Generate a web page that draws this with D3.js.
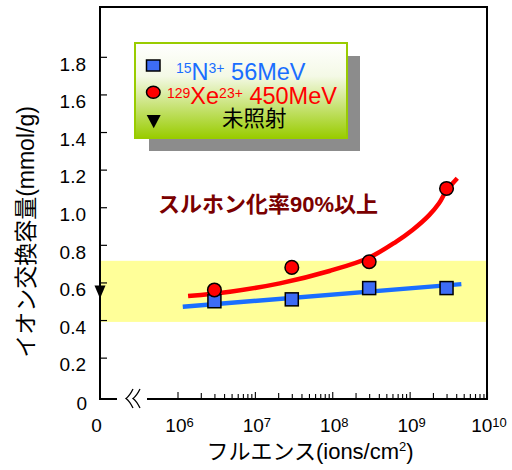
<!DOCTYPE html>
<html>
<head>
<meta charset="utf-8">
<script src="https://cdn.jsdelivr.net/npm/d3@7"></script>
<style>
  body { margin: 0; background: #fff; }
  text { font-family: "Liberation Sans", Arial, "Noto Sans CJK JP", sans-serif; }
</style>
</head>
<body>
<script>
// Irradiation fluence (ions/cm²) of the measured samples
const fluence = [3e6, 3e7, 3e8, 3e9];
// Ion exchange capacity (mmol/g)
const nCapacity = [0.50, 0.51, 0.57, 0.57];     // 15N3+ 56MeV
const xeCapacity = [0.56, 0.68, 0.71, 1.10];    // 129Xe23+ 450MeV
const unirradiatedCapacity = 0.56;              // 未照射
// Trend lines
const nFitFluence = [1.17e6, 4.66e9];
const nFitCapacity = [0.471, 0.591];
const xeFitFluence = [1.37e6, 4.77e6, 2.1e7, 9.2e7, 2.93e8, 6.66e8, 1.09e9, 1.79e9, 2.4e9, 2.93e9, 4.13e9];
const xeFitCapacity = [0.528, 0.551, 0.595, 0.661, 0.730, 0.816, 0.879, 0.958, 1.021, 1.082, 1.154];
// Highlighted capacity range
const bandRange = [0.39, 0.715];
// Axis ticks
const yTickValues = [0.2, 0.4, 0.6, 0.8, 1.0, 1.2, 1.4, 1.6, 1.8];
const xTickExponents = [6, 7, 8, 9, 10];

const W = 512, H = 470;
const plotLeft = 100, plotRight = 487, plotTop = 7, plotBottom = 399;

const svg = d3.select("body").append("svg")
  .attr("width", W).attr("height", H);

const x = d3.scaleLog().domain([1e6, 1e10]).range([177.5, plotRight]);
const y = d3.scaleLinear().domain([-0.02, 2.065]).range([plotBottom, plotTop]);

// Legend gradient
const defs = svg.append("defs");
const grad = defs.append("linearGradient").attr("id", "legendFill")
  .attr("x1", 0).attr("y1", 0).attr("x2", 0).attr("y2", 1);
grad.append("stop").attr("offset", "0%").attr("stop-color", "#ffffff");
grad.append("stop").attr("offset", "35%").attr("stop-color", "#f4f9e6");
grad.append("stop").attr("offset", "100%").attr("stop-color", "#99cc00");

// Highlight band
svg.append("rect")
  .attr("x", plotLeft).attr("width", plotRight - plotLeft)
  .attr("y", y(bandRange[1])).attr("height", y(bandRange[0]) - y(bandRange[1]))
  .attr("fill", "#ffff99");

// Frame: left axis, top and right borders
svg.append("path")
  .attr("d", `M${plotLeft},${plotBottom} V${plotTop} H${plotRight} V${plotBottom}`)
  .attr("fill", "none").attr("stroke", "#000").attr("stroke-width", 2);

// Bottom axis line with a break mark
svg.append("path")
  .attr("d", `M${plotLeft - 1},${plotBottom} H117 M147,${plotBottom} H${plotRight + 1}`)
  .attr("fill", "none").attr("stroke", "#000").attr("stroke-width", 2);
svg.append("path")
  .attr("d", "M133,389 Q129.5,396 126,398.5 Q129.5,401 133,408 " +
             "M140,389 Q136.5,396 133,398.5 Q136.5,401 140,408")
  .attr("fill", "none").attr("stroke", "#000").attr("stroke-width", 1.3);

// Y axis ticks and labels
const yAxis = d3.axisLeft(y).tickValues(yTickValues).tickSize(-7)
  .tickFormat(d3.format(".1f"));
const gy = svg.append("g").attr("transform", `translate(${plotLeft},0)`).call(yAxis);
gy.select(".domain").remove();
gy.selectAll(".tick line").attr("stroke", "#000").attr("stroke-width", 1.2);
gy.selectAll(".tick text")
  .attr("x", -14).attr("dy", "0.7em")
  .attr("fill", "#000").style("font-size", "19px")
  .style("font-family", "'Liberation Sans', Arial, sans-serif");
svg.append("text").attr("x", 87).attr("y", 410)
  .attr("text-anchor", "end").style("font-size", "19px").text("0");

// X axis: log ticks inside the frame
const xTickValues = d3.range(6, 10).flatMap(e => d3.range(1, 10).map(m => m * 10 ** e)).concat([1e10]);
const xAxis = d3.axisBottom(x).tickValues(xTickValues).tickSize(-5).tickFormat("");
const gx = svg.append("g").attr("transform", `translate(0,${plotBottom})`).call(xAxis);
gx.select(".domain").remove();
gx.selectAll(".tick line")
  .attr("stroke", "#000").attr("stroke-width", 1.1)
  .attr("y2", d => {
    const m = Math.round(d / 10 ** Math.floor(Math.log10(d) + 1e-9));
    return m === 1 ? -7 : (m === 2 ? -6 : -5);
  });

const xl = svg.append("g").selectAll("text").data(xTickExponents).join("text")
  .attr("x", d => x(10 ** d) + 2).attr("y", 432)
  .attr("text-anchor", "middle").style("font-size", "19px");
xl.append("tspan").text("10");
xl.append("tspan").attr("dy", -5).style("font-size", "13px").text(d => d);
svg.append("text").attr("x", 96.5).attr("y", 432)
  .attr("text-anchor", "middle").style("font-size", "19px").text("0");

// Axis titles
const xt = svg.append("text").attr("x", 310).attr("y", 459)
  .attr("text-anchor", "middle").style("font-size", "22px");
xt.append("tspan").text("フルエンス(ions/cm");
xt.append("tspan").attr("dy", -8).style("font-size", "13px").text("2");
xt.append("tspan").attr("dy", 8).text(")");

svg.append("text")
  .attr("transform", "translate(34,232) rotate(-90)")
  .attr("text-anchor", "middle").style("font-size", "23px")
  .text("イオン交換容量(mmol/g)");

// Trend lines
const line = d3.line().x(d => x(d[0])).y(d => y(d[1]));
svg.append("path")
  .datum(d3.zip(nFitFluence, nFitCapacity))
  .attr("d", line)
  .attr("fill", "none").attr("stroke", "#1a6eff").attr("stroke-width", 4.5);
svg.append("path")
  .datum(d3.zip(xeFitFluence, xeFitCapacity))
  .attr("d", line.curve(d3.curveCatmullRom.alpha(0.5)))
  .attr("fill", "none").attr("stroke", "#ff0000").attr("stroke-width", 4.5);

// Data markers
svg.append("g").selectAll("rect").data(d3.zip(fluence, nCapacity)).join("rect")
  .attr("x", d => x(d[0]) - 6.5).attr("y", d => y(d[1]) - 6.5)
  .attr("width", 13).attr("height", 13)
  .attr("fill", "#3d6cf5").attr("stroke", "#000").attr("stroke-width", 1.5);
svg.append("g").selectAll("circle").data(d3.zip(fluence, xeCapacity)).join("circle")
  .attr("cx", d => x(d[0])).attr("cy", d => y(d[1])).attr("r", 6.8)
  .attr("fill", "#ff0000").attr("stroke", "#000").attr("stroke-width", 1.5);
{
  const cy = y(unirradiatedCapacity);
  svg.append("path")
    .attr("d", `M${plotLeft - 5.5},${cy - 4.5} L${plotLeft + 5.5},${cy - 4.5} L${plotLeft},${cy + 8.5} Z`)
    .attr("fill", "#000");
}

// Annotation
svg.append("text").attr("x", 158).attr("y", 212)
  .attr("fill", "#7a0000").style("font-size", "22px").style("font-weight", "bold")
  .text("スルホン化率90%以上");

// Legend
const lg = svg.append("g");
lg.append("rect").attr("x", 149).attr("y", 56).attr("width", 211).attr("height", 95)
  .attr("fill", "#8c8c8c");
lg.append("rect").attr("x", 135).attr("y", 43).attr("width", 212).attr("height", 95)
  .attr("fill", "url(#legendFill)").attr("stroke", "#99cc00").attr("stroke-width", 2);

lg.append("rect").attr("x", 146.5).attr("y", 60).attr("width", 13.5).attr("height", 11)
  .attr("fill", "#3d6cf5").attr("stroke", "#000").attr("stroke-width", 1.5);
lg.append("ellipse").attr("cx", 153.3).attr("cy", 92.3).attr("rx", 6.8).attr("ry", 6)
  .attr("fill", "#ff0000").attr("stroke", "#000").attr("stroke-width", 1.5);
lg.append("path").attr("d", "M146.7,115 L160.7,115 L153.7,128.3 Z").attr("fill", "#000");

const t1 = lg.append("text").attr("x", 176).attr("y", 80).attr("fill", "#1a6eff").style("font-size", "23.5px");
t1.append("tspan").attr("dy", -7).style("font-size", "14px").text("15");
t1.append("tspan").attr("dy", 7).text("N");
t1.append("tspan").attr("dy", -7).style("font-size", "14px").text("3+");
t1.append("tspan").attr("dy", 7).text(" 56MeV");

const t2 = lg.append("text").attr("x", 167).attr("y", 104).attr("fill", "#ff0000").style("font-size", "23.5px");
t2.append("tspan").attr("dy", -6.5).style("font-size", "14px").text("129");
t2.append("tspan").attr("dy", 6.5).text("Xe");
t2.append("tspan").attr("dy", -6.5).style("font-size", "14px").text("23+");
t2.append("tspan").attr("dy", 6.5).text(" 450MeV");

lg.append("text").attr("x", 222).attr("y", 126).attr("fill", "#000")
  .style("font-size", "21.5px").text("未照射");
</script>
</body>
</html>
